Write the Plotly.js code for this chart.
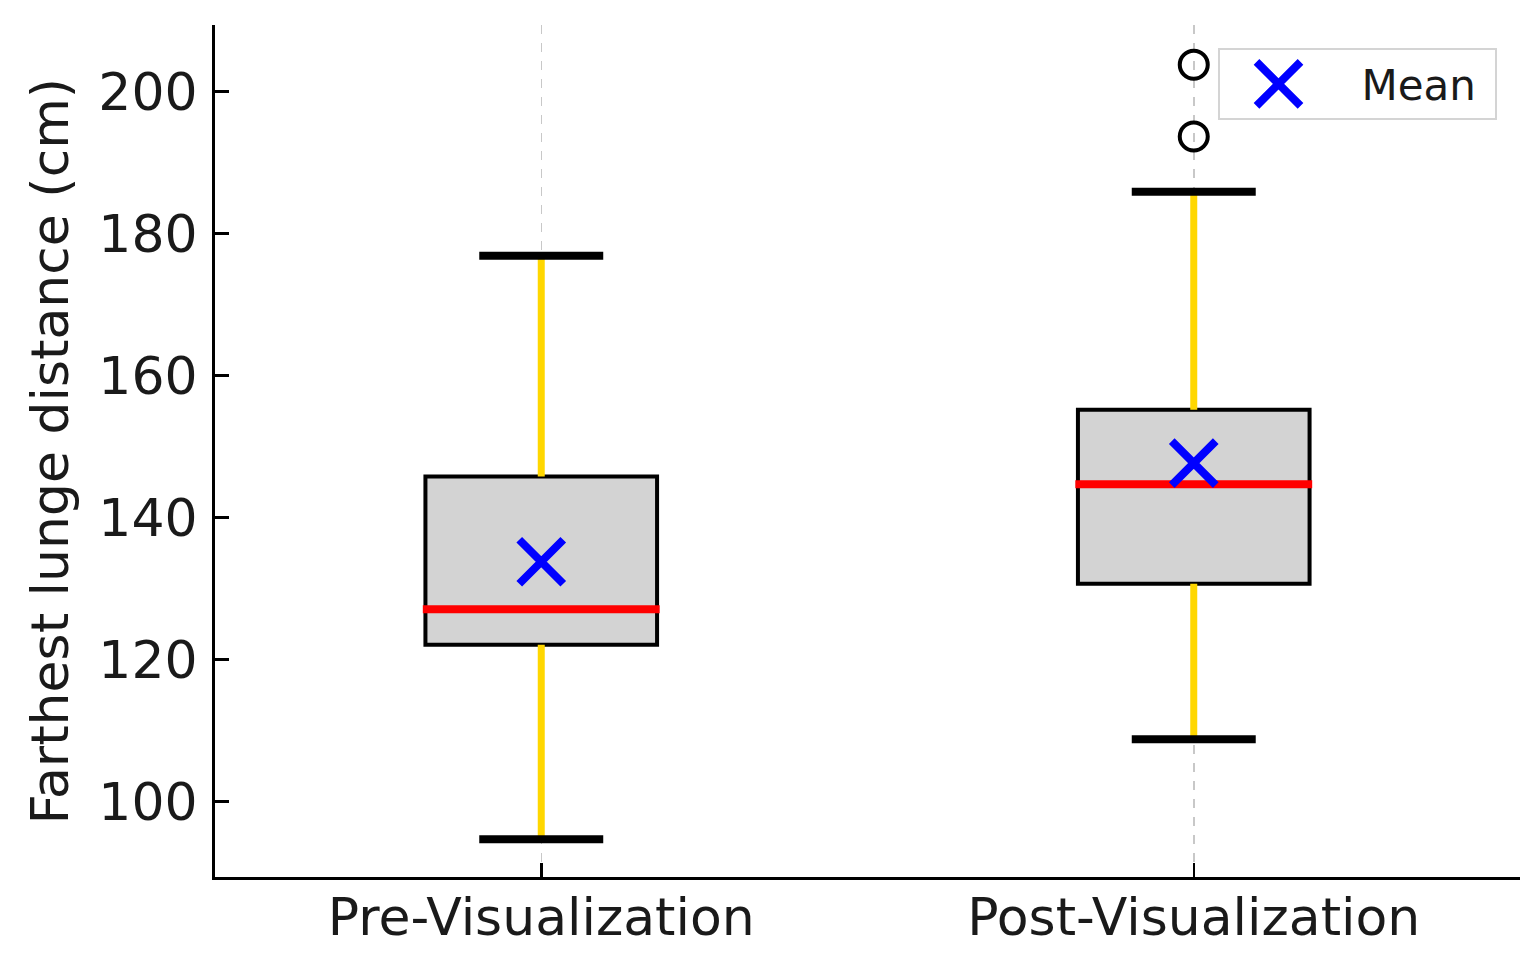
<!DOCTYPE html>
<html>
<head>
<meta charset="utf-8">
<script src="https://cdn.plot.ly/plotly-3.0.1.min.js"></script>
<style>
  html, body { margin: 0; padding: 0; background: #fff; }
  #chart { width: 1535px; height: 963px; }
</style>
</head>
<body>
<div id="chart"></div>
<script>
// Box plot stats
const categories = ["Pre-Visualization", "Post-Visualization"];
const lowerWhisker = [94.7, 108.8];
const q1 = [122.1, 130.7];
const median = [127.1, 144.7];
const q3 = [145.8, 155.2];
const upperWhisker = [176.9, 185.9];
const means = [133.8, 147.7];
const outlierGroup = [1, 1];
const outlierValues = [193.7, 203.8];

const xpos = categories.map((_, i) => i);
const boxWidth = 0.355;
const capHalf = 0.095;

// boxes only (fences at the quartiles, whiskers drawn separately in yellow)
const boxes = {
  type: "box",
  x: xpos,
  q1: q1,
  median: median,
  q3: q3,
  lowerfence: q1,
  upperfence: q3,
  width: boxWidth,
  whiskerwidth: 0,
  fillcolor: "#d3d3d3",
  line: { color: "#000000", width: 4 },
  boxpoints: false,
  hoverinfo: "skip",
  showlegend: false,
};

// whiskers
const wx = [], wy = [];
xpos.forEach((x, i) => {
  wx.push(x, x, null, x, x, null);
  wy.push(q3[i], upperWhisker[i], null, lowerWhisker[i], q1[i], null);
});
const whiskers = {
  type: "scatter",
  mode: "lines",
  x: wx,
  y: wy,
  line: { color: "#ffd700", width: 7 },
  hoverinfo: "skip",
  showlegend: false,
};

// caps
const cx = [], cy = [];
xpos.forEach((x, i) => {
  cx.push(x - capHalf, x + capHalf, null, x - capHalf, x + capHalf, null);
  cy.push(upperWhisker[i], upperWhisker[i], null, lowerWhisker[i], lowerWhisker[i], null);
});
const caps = {
  type: "scatter",
  mode: "lines",
  x: cx,
  y: cy,
  line: { color: "#000000", width: 8 },
  hoverinfo: "skip",
  showlegend: false,
};

// medians
const mx = [], my = [];
xpos.forEach((x, i) => {
  const h = boxWidth / 2 + 0.004;
  mx.push(x - h, x + h, null);
  my.push(median[i], median[i], null);
});
const medians = {
  type: "scatter",
  mode: "lines",
  x: mx,
  y: my,
  line: { color: "#ff0000", width: 8 },
  hoverinfo: "skip",
  showlegend: false,
};

const outliers = {
  type: "scatter",
  mode: "markers",
  x: outlierGroup,
  y: outlierValues,
  marker: {
    symbol: "circle-open",
    size: 28,
    color: "#000000",
    line: { color: "#000000", width: 4 },
  },
  showlegend: false,
};

const meanMarks = {
  type: "scatter",
  mode: "markers",
  name: "Mean\u00a0",
  x: xpos,
  y: means,
  marker: {
    symbol: "x-thin",
    size: 44,
    color: "#0000ff",
    line: { color: "#0000ff", width: 8 },
  },
};

const layout = {
  width: 1535,
  height: 963,
  margin: { t: 25, r: 15, b: 86, l: 215 },
  paper_bgcolor: "#ffffff",
  plot_bgcolor: "#ffffff",
  font: { family: "DejaVu Sans", color: "#1a1a1a", size: 52 },
  xaxis: {
    range: [-0.5, 1.5],
    tickvals: xpos,
    ticktext: categories,
    showline: true,
    linecolor: "#000000",
    linewidth: 3,
    ticks: "inside",
    ticklen: 14,
    tickwidth: 2.5,
    tickcolor: "#000000",
    showgrid: true,
    gridcolor: "#c8c8c8",
    griddash: "dash",
    gridwidth: 1.5,
    zeroline: false,
    ticklabelstandoff: -7,
    tickfont: { size: 52 },
  },
  yaxis: {
    range: [89.4, 209.4],
    tickvals: [100, 120, 140, 160, 180, 200],
    showline: true,
    linecolor: "#000000",
    linewidth: 3,
    ticks: "inside",
    ticklen: 14,
    tickwidth: 2.5,
    tickcolor: "#000000",
    showgrid: false,
    zeroline: false,
    ticklabelstandoff: 4,
    tickfont: { size: 52 },
    title: { text: "Farthest lunge distance (cm)", font: { size: 52 }, standoff: 14 },
  },
  showlegend: true,
  legend: {
    x: 0.982,
    xanchor: "right",
    y: 0.973,
    yanchor: "top",
    bgcolor: "#ffffff",
    bordercolor: "#d4d4d4",
    borderwidth: 2,
    itemwidth: 132,
    font: { size: 42 },
  },
};

Plotly.newPlot("chart", [boxes, whiskers, caps, medians, outliers, meanMarks], layout, {
  displayModeBar: false,
  staticPlot: true,
}).then((gd) => {
  // legend symbols are clamped in size; enlarge to match the plotted mark
  const p = gd.querySelector(".legend .legendpoints path.scatterpts");
  if (p) {
    p.setAttribute("d", "M10,22L-34,-22M10,-22L-34,22");
    p.style.strokeWidth = "8px";
  }
});
</script>
</body>
</html>
